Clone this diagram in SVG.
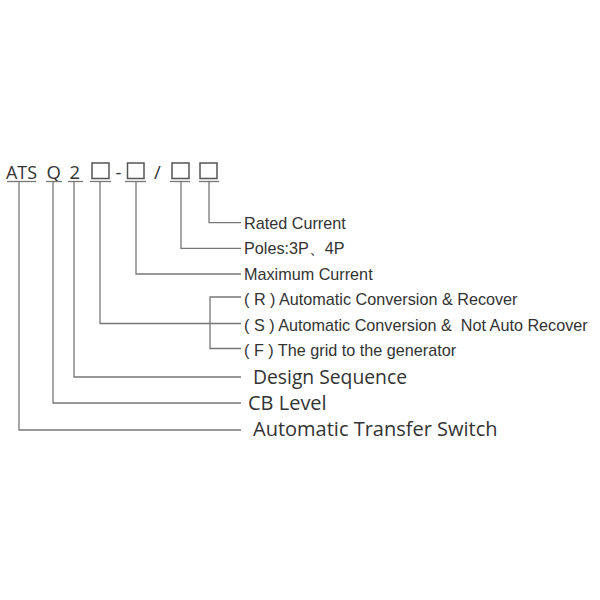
<svg xmlns="http://www.w3.org/2000/svg" width="600" height="600" viewBox="0 0 600 600">
<style>
.hd{font-family:"Open Sans","Liberation Sans",sans-serif;font-size:18.5px;fill:#333}
.sm{font-family:"Liberation Sans",Arial,sans-serif;font-size:16.2px;fill:#333}
.lg{font-family:"Open Sans","Liberation Sans",sans-serif;font-size:20px;fill:#333}
.ln{stroke:#777;stroke-width:1.3;fill:none}
.ul{stroke:#777;stroke-width:1.3}
.sq{fill:none;stroke:#555;stroke-width:1.5}
</style>
<rect width="600" height="600" fill="#fff"/>
<g id="code">
  <text class="hd" x="6" y="178.5" textLength="31" lengthAdjust="spacingAndGlyphs">ATS</text>
  <text class="hd" x="46.5" y="178.5">Q</text>
  <text class="hd" x="69.5" y="178.5">2</text>
  <rect class="sq" x="92" y="163" width="17" height="15.5"/>
  <text class="hd" x="115.5" y="178.5">-</text>
  <rect class="sq" x="127.5" y="163" width="16.5" height="15.5"/>
  <text class="hd" x="154" y="178.5">/</text>
  <rect class="sq" x="172" y="163" width="17" height="15.5"/>
  <rect class="sq" x="200" y="163" width="17" height="15.5"/>
  <line class="ul" x1="7" y1="181.5" x2="36" y2="181.5"/>
  <line class="ul" x1="46" y1="181.5" x2="62" y2="181.5"/>
  <line class="ul" x1="68" y1="181.5" x2="83" y2="181.5"/>
  <line class="ul" x1="90" y1="181.5" x2="111" y2="181.5"/>
  <line class="ul" x1="125" y1="181.5" x2="146" y2="181.5"/>
  <line class="ul" x1="170" y1="181.5" x2="190" y2="181.5"/>
  <line class="ul" x1="199" y1="181.5" x2="219" y2="181.5"/>
</g>
<g id="connectors">
  <polyline class="ln" points="209,181.5 209,222.7 241,222.7"/>
  <polyline class="ln" points="181,181.5 181,248.3 241,248.3"/>
  <polyline class="ln" points="136,181.5 136,274 241,274"/>
  <polyline class="ln" points="100,181.5 100,323.5 241,323.5"/>
  <polyline class="ln" points="241,297 210,297 210,348.5 241,348.5"/>
  <polyline class="ln" points="74,181.5 74,377 241,377"/>
  <polyline class="ln" points="53,181.5 53,403 241,403"/>
  <polyline class="ln" points="19,181.5 19,430 241,430"/>
</g>
<g id="rated"><text class="sm" x="244" y="229">Rated Current</text></g>
<g id="poles"><text class="sm" x="244" y="254">Poles:3P、4P</text></g>
<g id="maximum"><text class="sm" x="244" y="280">Maximum Current</text></g>
<g id="opt-r"><text class="sm" x="244" y="305" xml:space="preserve">( R ) Automatic Conversion &amp; Recover</text></g>
<g id="opt-s"><text class="sm" x="244" y="330.5" xml:space="preserve">( S ) Automatic Conversion &amp;  Not Auto Recover</text></g>
<g id="opt-f"><text class="sm" x="244" y="356" xml:space="preserve">( F ) The grid to the generator</text></g>
<g id="design"><text class="lg" x="253" y="384" textLength="154" lengthAdjust="spacingAndGlyphs">Design Sequence</text></g>
<g id="cb"><text class="lg" x="248" y="409.5">CB Level</text></g>
<g id="ats"><text class="lg" x="253" y="436">Automatic Transfer Switch</text></g>
</svg>
